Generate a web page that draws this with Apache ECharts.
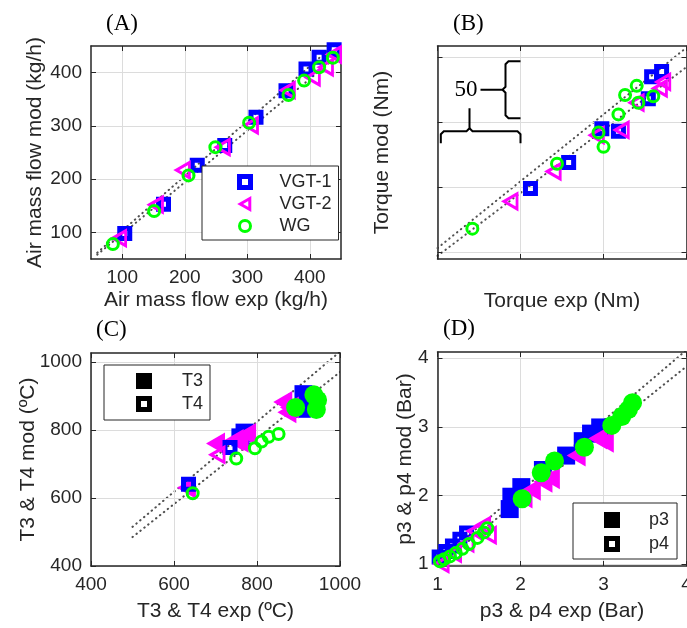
<!DOCTYPE html>
<html>
<head>
<meta charset="utf-8">
<script src="https://cdn.jsdelivr.net/npm/echarts@6/dist/echarts.min.js"></script>
<style>
  html, body { margin: 0; padding: 0; background: #ffffff; }
  #chart { width: 687px; height: 628px; }
</style>
</head>
<body>
<div id="chart"></div>
<script>
// ---- (A) air mass flow, [experimental, model] in kg/h ----
const airVGT1 = [[104, 98], [166, 153], [220, 226], [264, 263], [314, 316], [362, 366], [394, 407], [415, 429], [439, 443]];
const airVGT2 = [[95, 89], [154, 152], [197, 217], [261, 260], [306, 301], [365, 367], [405, 391], [426, 410], [439, 434]];
const airWG   = [[85, 78], [151, 140], [206, 207], [249, 260], [303, 306], [366, 358], [391, 385], [415, 410], [437, 428]];

// ---- (B) torque, [experimental, model] in Nm ----
const torqueVGT1 = [[156, 149], [179, 169], [199, 195], [209, 193], [227, 218], [229, 235], [235, 239]];
const torqueVGT2 = [[144, 139], [170, 162], [196, 190], [211, 194], [220, 215], [234, 226], [236, 231]];
const torqueWG   = [[121, 118], [172, 168], [197, 192], [200, 181], [209, 206], [213, 221], [220, 228], [221, 215], [230, 220]];

// ---- (C) exhaust temperatures, [experimental, model] in ºC ----
const t3VGT1 = [[912, 905], [921, 885], [908, 862], [770, 792], [760, 778]];
const t3VGT2 = [[862, 882], [878, 866], [872, 852], [700, 760], [745, 770], [757, 765], [775, 788], [630, 630]];
const t3WG   = [[893, 866], [937, 903], [946, 888], [943, 860]];
const t4VGT1 = [[735, 748], [635, 640]];
const t4VGT2 = [[705, 727]];
const t4WG   = [[645, 614], [750, 716], [795, 746], [811, 766], [828, 780], [852, 788]];

// ---- (D) exhaust pressures, [experimental, model] in bar ----
const p3VGT1 = [[1.87, 1.80], [1.89, 1.98], [2.01, 2.12], [2.27, 2.37], [2.55, 2.58], [2.75, 2.79], [2.85, 2.90], [2.96, 2.99]];
const p3VGT2 = [[2.03, 1.97], [2.13, 2.08], [2.27, 2.20], [2.36, 2.25], [2.67, 2.58], [2.93, 2.83], [3.01, 2.78]];
const p3WG   = [[2.02, 1.95], [2.25, 2.33], [2.41, 2.50], [2.77, 2.70], [3.10, 3.02], [3.22, 3.15], [3.30, 3.25], [3.35, 3.35]];
const p4VGT1 = [[1.02, 1.10], [1.10, 1.18], [1.18, 1.26], [1.27, 1.36], [1.35, 1.45]];
const p4VGT2 = [[1.05, 1.00], [1.20, 1.15], [1.35, 1.30], [1.45, 1.48], [1.55, 1.56], [1.62, 1.42]];
const p4WG   = [[1.03, 1.04], [1.08, 1.07], [1.15, 1.11], [1.22, 1.16], [1.30, 1.22], [1.38, 1.29], [1.48, 1.38], [1.56, 1.46], [1.60, 1.52]];

// ---- +/-3 % agreement bands, end points [exp, mod] ----
const bandAirLo = [[60, 58.2], [450, 436.5]];
const bandAirHi = [[60, 61.8], [450, 463.5]];
const bandTorqueLo = [[100, 97], [250, 242.5]];
const bandTorqueHi = [[100, 103], [250, 257.5]];
const bandTempLo = [[500, 485], [1000, 970]];
const bandTempHi = [[500, 515], [1000, 1030]];
const bandPresLo = [[1, 0.97], [4, 3.88]];
const bandPresHi = [[1, 1.03], [4, 4.12]];

// ---- tick values ----
const airTicks = [100, 200, 300, 400];
const torqueTicks = [100, 150, 200, 250];
const tempTicks = [400, 600, 800, 1000];
const presTicks = [1, 2, 3, 4];

// ---- panel captions and the torque scale bracket label ----
const panelLabels = ['(A)', '(B)', '(C)', '(D)'];
const torqueScaleLabel = '50';

const FONT = '"Liberation Sans", Arial, Helvetica, sans-serif';
const SERIF = '"Liberation Serif", "Times New Roman", serif';
const INK = '#262626';
const GRIDLINE = '#dcdcdc';
const BLUE = '#0000ff', MAGENTA = '#ff00ff', GREEN = '#00ff00';
const CLEAR = 'rgba(255,255,255,0)';
const TRI_LEFT = 'path://M0,50L87,0L87,100Z';
const SQUARE_RING = 'path://M0,0H16V16H0Z M5,5V11H11V5Z';

const grids = [
  { left: 91, top: 46, width: 250, height: 213 },
  { left: 437.5, top: 46, width: 249, height: 213 },
  { left: 91, top: 353, width: 249, height: 213 },
  { left: 437.5, top: 352, width: 249, height: 214 }
].map(g => Object.assign({ outerBoundsMode: 'none', containLabel: false }, g));

const axisSpec = [
  { x: { min: 50, max: 450, ticks: airTicks, name: 'Air mass flow exp (kg/h)', labels: true, gap: 31 },
    y: { min: 50, max: 450, ticks: airTicks, name: 'Air mass flow mod (kg/h)', labels: true, gap: 45 } },
  { x: { min: 100, max: 250, ticks: torqueTicks, name: 'Torque exp (Nm)', labels: false, gap: 32 },
    y: { min: 94.6, max: 258.7, ticks: torqueTicks, name: 'Torque mod (Nm)', labels: false, gap: 45 } },
  { x: { min: 400, max: 1000, ticks: tempTicks, name: 'T3 & T4 exp (ºC)', labels: true, gap: 35 },
    y: { min: 400, max: 1026, ticks: tempTicks, name: 'T3 & T4 mod (ºC)', labels: true, gap: 52 } },
  { x: { min: 1, max: 4, ticks: presTicks, name: 'p3 & p4 exp (Bar)', labels: true, gap: 35 },
    y: { min: 0.97, max: 4.09, ticks: presTicks, name: 'p3 & p4 mod (Bar)', labels: true, gap: 22 } }
];

function mainAxis(dim, gi, s) {
  return {
    type: 'value', gridIndex: gi, position: dim === 'x' ? 'bottom' : 'left',
    min: s.min, max: s.max,
    name: s.name, nameLocation: 'middle', nameGap: s.gap, nameMoveOverlap: false,
    nameTextStyle: { fontFamily: FONT, fontSize: 21, color: INK },
    axisLine: { show: true, onZero: false, lineStyle: { color: INK, width: 1.5 } },
    axisTick: { show: true, inside: true, length: 5, customValues: s.ticks, lineStyle: { color: INK, width: 1 } },
    axisLabel: { show: s.labels, customValues: s.ticks, margin: 9, hideOverlap: false,
                 formatter: v => String(v),
                 fontFamily: FONT, fontSize: 19, color: INK },
    splitLine: { show: true, lineStyle: { color: GRIDLINE, width: 1 } },
    z: 3
  };
}
function mirrorAxis(dim, gi, s) {
  return {
    type: 'value', gridIndex: gi, position: dim === 'x' ? 'top' : 'right',
    min: s.min, max: s.max,
    axisLine: { show: true, onZero: false, lineStyle: { color: INK, width: 1.5 } },
    axisTick: { show: true, inside: true, length: 5, customValues: s.ticks, lineStyle: { color: INK, width: 1 } },
    axisLabel: { show: false },
    splitLine: { show: false },
    z: 3
  };
}

const xAxes = axisSpec.map((a, i) => mainAxis('x', i, a.x)).concat(axisSpec.map((a, i) => mirrorAxis('x', i, a.x)));
const yAxes = axisSpec.map((a, i) => mainAxis('y', i, a.y)).concat(axisSpec.map((a, i) => mirrorAxis('y', i, a.y)));

// marker styles (fully opaque, as plotted)
const hollowSquare = { symbol: 'rect', symbolSize: 10, itemStyle: { color: CLEAR, borderColor: BLUE, borderWidth: 5, opacity: 1 } };
const hollowTri = { symbol: TRI_LEFT, symbolSize: [13, 15], itemStyle: { color: CLEAR, borderColor: MAGENTA, borderWidth: 3, opacity: 1 } };
const hollowCircle = { symbol: 'circle', symbolSize: 11, itemStyle: { color: CLEAR, borderColor: GREEN, borderWidth: 3, opacity: 1 } };
const filledSquare = { symbol: 'rect', symbolSize: 18, itemStyle: { color: BLUE, borderWidth: 0, opacity: 1 } };
const filledTri = { symbol: TRI_LEFT, symbolSize: [19, 22], itemStyle: { color: MAGENTA, borderWidth: 0, opacity: 1 } };
const filledCircle = { symbol: 'circle', symbolSize: 19, itemStyle: { color: GREEN, borderWidth: 0, opacity: 1 } };

function scatter(name, gi, data, style) {
  return Object.assign({ type: 'scatter', name: name, xAxisIndex: gi, yAxisIndex: gi, data: data, z: 4,
                         emphasis: { disabled: true } }, style);
}
function band(gi, data) {
  return { type: 'line', xAxisIndex: gi, yAxisIndex: gi, data: data, symbol: 'none', silent: true, clip: true, z: 2,
           lineStyle: { type: [0.5, 4.5], width: 2, color: '#505050', cap: 'round' } };
}

const series = [
  band(0, bandAirLo), band(0, bandAirHi),
  scatter('VGT-1', 0, airVGT1, hollowSquare),
  scatter('VGT-2', 0, airVGT2, hollowTri),
  scatter('WG', 0, airWG, hollowCircle),

  band(1, bandTorqueLo), band(1, bandTorqueHi),
  scatter('VGT-1', 1, torqueVGT1, hollowSquare),
  scatter('VGT-2', 1, torqueVGT2, hollowTri),
  scatter('WG', 1, torqueWG, hollowCircle),

  band(2, bandTempLo), band(2, bandTempHi),
  scatter('T3', 2, t3VGT1, filledSquare),
  scatter('T3', 2, t3VGT2, filledTri),
  scatter('T3', 2, t3WG, filledCircle),
  scatter('T4', 2, t4VGT1, hollowSquare),
  scatter('T4', 2, t4VGT2, hollowTri),
  scatter('T4', 2, t4WG, hollowCircle),

  band(3, bandPresLo), band(3, bandPresHi),
  scatter('p4', 3, p4VGT1, hollowSquare),
  scatter('p4', 3, p4VGT2, hollowTri),
  scatter('p4', 3, p4WG, hollowCircle),
  scatter('p3', 3, p3VGT1, filledSquare),
  scatter('p3', 3, p3VGT2, filledTri),
  scatter('p3', 3, p3WG, filledCircle)
];

function legendBox(pos, padding, itemGap, iconSize, textPad, items) {
  return Object.assign({
    orient: 'vertical', padding: padding, itemGap: itemGap, itemWidth: iconSize, itemHeight: iconSize,
    borderColor: INK, borderWidth: 1, backgroundColor: '#ffffff', selectedMode: false, z: 10,
    itemStyle: { opacity: 1 },
    textStyle: { fontFamily: FONT, fontSize: 18, color: INK, padding: [0, 0, 0, textPad] },
    data: items
  }, pos);
}

const legends = [
  legendBox({ left: 202, top: 166 }, [7, 7, 5, 35], 4, 11, 24, [
    { name: 'VGT-1', icon: 'rect', itemStyle: { color: CLEAR, borderColor: BLUE, borderWidth: 5, opacity: 1 } },
    { name: 'VGT-2', icon: TRI_LEFT, itemStyle: { color: CLEAR, borderColor: MAGENTA, borderWidth: 3, opacity: 1 } },
    { name: 'WG', icon: 'circle', itemStyle: { color: CLEAR, borderColor: GREEN, borderWidth: 3, opacity: 1 } }
  ]),
  legendBox({ left: 104, top: 365 }, [7, 7, 7, 32], 5, 16, 25, [
    { name: 'T3', icon: 'rect', itemStyle: { color: '#000', borderWidth: 0, opacity: 1 } },
    { name: 'T4', icon: SQUARE_RING, itemStyle: { color: '#000', borderWidth: 0, opacity: 1 } }
  ]),
  legendBox({ left: 573, top: 503 }, [8, 8, 6, 31], 6, 16, 24, [
    { name: 'p3', icon: 'rect', itemStyle: { color: '#000', borderWidth: 0, opacity: 1 } },
    { name: 'p4', icon: SQUARE_RING, itemStyle: { color: '#000', borderWidth: 0, opacity: 1 } }
  ])
];

const captionPos = [{ left: 106, top: 12 }, { left: 453, top: 12 }, { left: 96, top: 318 }, { left: 443, top: 317 }];
const titles = panelLabels.map((t, i) => Object.assign({
  text: t, padding: 0,
  textStyle: { fontFamily: SERIF, fontSize: 23, fontWeight: 'normal', color: '#000' }
}, captionPos[i]));

const chart = echarts.init(document.getElementById('chart'), null, { renderer: 'canvas' });
chart.setOption({
  animation: false,
  backgroundColor: '#ffffff',
  title: titles,
  grid: grids,
  xAxis: xAxes,
  yAxis: yAxes,
  legend: legends,
  series: series
});

// Scale bracket inside the torque panel: two braces spanning one 50 Nm grid step.
function torqueBracket() {
  const px = v => chart.convertToPixel({ gridIndex: 1 }, v);
  const hL = px([102, 193]), hR = px([150, 193]);
  const yb = hL[1], L = hL[0], R = hR[0];
  const tx = L + (R - L) * 0.36;
  const vT = px([150, 247]), vB = px([150, 203]);
  const sx = vT[0] - 15, top = vT[1], bot = vB[1], mid = (top + bot) / 2;
  const stroke = { stroke: '#000', lineWidth: 2, fill: null };
  return [
    { type: 'polyline', z: 20, silent: true, style: stroke,
      shape: { points: [[L, yb + 12], [L, yb + 3], [L + 3, yb], [tx - 3, yb], [tx, yb - 3], [tx, yb - 23]] } },
    { type: 'polyline', z: 20, silent: true, style: stroke,
      shape: { points: [[tx, yb - 3], [tx + 3, yb], [R - 3, yb], [R, yb + 3], [R, yb + 12]] } },
    { type: 'polyline', z: 20, silent: true, style: stroke,
      shape: { points: [[sx + 15, top], [sx + 3, top], [sx, top + 3], [sx, mid - 3], [sx - 3, mid], [sx - 25, mid]] } },
    { type: 'polyline', z: 20, silent: true, style: stroke,
      shape: { points: [[sx - 3, mid], [sx, mid + 3], [sx, bot - 3], [sx + 3, bot], [sx + 15, bot]] } },
    { type: 'text', z: 20, silent: true,
      style: { text: torqueScaleLabel, x: sx - 28, y: mid, align: 'right', verticalAlign: 'middle',
               font: '23px ' + SERIF, fill: '#000' } }
  ];
}
chart.setOption({ graphic: torqueBracket() });
</script>
</body>
</html>
